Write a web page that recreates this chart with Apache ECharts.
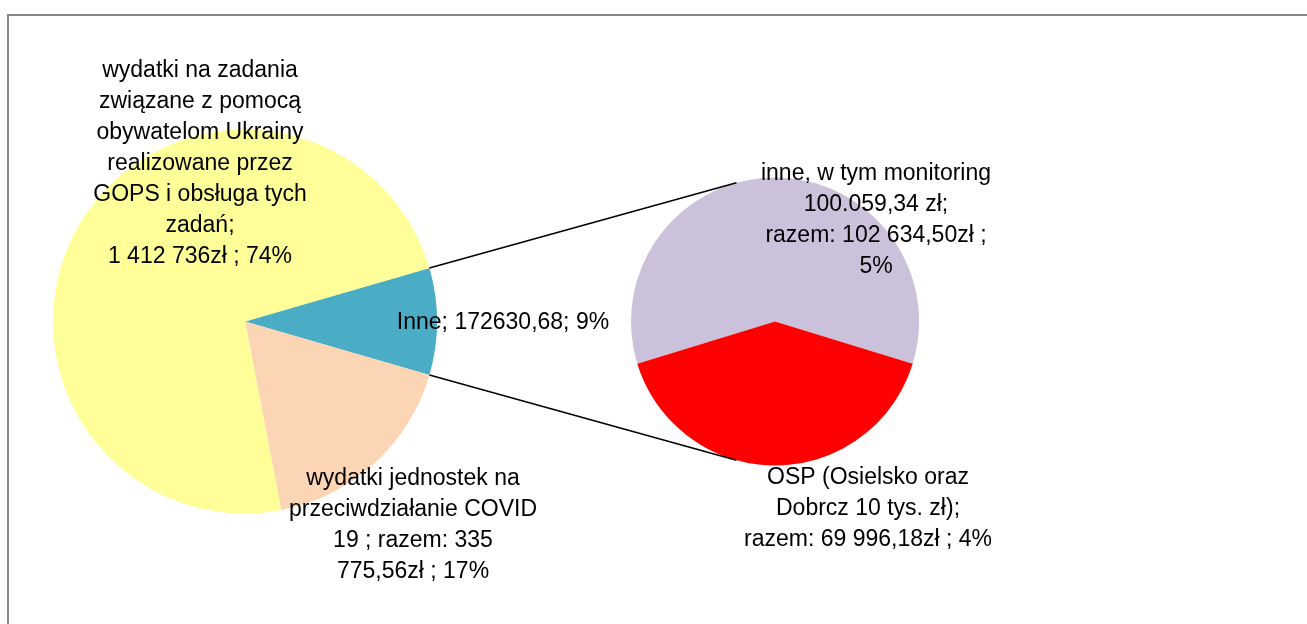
<!DOCTYPE html>
<html>
<head>
<meta charset="utf-8">
<script src="https://cdn.jsdelivr.net/npm/echarts@6/dist/echarts.min.js"></script>
<style>
html,body{margin:0;padding:0;background:#fff;}
#chart{width:1307px;height:624px;}
</style>
</head>
<body>
<div id="chart"></div>
<script>
// ---- data ----
const mainNames = ['Inne', 'wydatki jednostek na przeciwdziałanie COVID 19', 'wydatki na zadania związane z pomocą obywatelom Ukrainy realizowane przez GOPS i obsługa tych zadań'];
const mainValues = [172630.68, 335775.56, 1412736];
const mainLabels = [
  'Inne; 172630,68; 9%',
  'wydatki jednostek na\nprzeciwdziałanie COVID\n19 ; razem: 335\n775,56zł ; 17%',
  'wydatki na zadania\nzwiązane z pomocą\nobywatelom Ukrainy\nrealizowane przez\nGOPS i obsługa tych\nzadań;\n1 412 736zł ; 74%'
];
const subNames = ['inne, w tym monitoring', 'OSP (Osielsko oraz Dobrcz 10 tys. zł)'];
const subValues = [102634.50, 69996.18];
const subLabels = [
  'inne, w tym monitoring\n100.059,34 zł;\nrazem: 102 634,50zł ;\n5%',
  'OSP (Osielsko oraz\nDobrcz 10 tys. zł);\nrazem: 69 996,18zł ; 4%'
];

// ---- layout / style ----
const mainColors = ['#4BACC6', '#FCD5B5', '#FFFF99'];
const subColors = ['#CCC1DA', '#FF0000'];
const mainCenter = [245, 321.5], mainR = 192;
const subCenter = [775, 321.5], subR = 144;
const mainLabelPos = [[503, 323], [413, 525], [200, 164]];
const subLabelPos = [[876, 220], [868, 509]];
const FONT = 'Liberation Sans';

const mainTotal = mainValues.reduce((a, b) => a + b, 0);
const halfAngle = mainValues[0] / mainTotal * 180; // degrees, "Inne" slice centred on 3 o'clock
const subTotal = subValues.reduce((a, b) => a + b, 0);
const redSweep = subValues[1] / subTotal * 360;
const subStart = -90 - redSweep / 2 + 360 - (360 - redSweep); // lavender starts after red ends (clockwise)

// connector lines: from Inne slice edges, tangent to secondary pie
function connector(sign) {
  const a = sign * halfAngle * Math.PI / 180;
  const P = [mainCenter[0] + mainR * Math.cos(a), mainCenter[1] - mainR * Math.sin(a)];
  const dx = P[0] - subCenter[0], dy = -(P[1] - subCenter[1]);
  const d = Math.hypot(dx, dy);
  const base = Math.atan2(dy, dx);
  const off = Math.acos(subR / d);
  const t = base - sign * off;
  const T = [subCenter[0] + subR * Math.cos(t), subCenter[1] - subR * Math.sin(t)];
  return {type: 'line', shape: {x1: P[0], y1: P[1], x2: T[0], y2: T[1]}, style: {stroke: '#000', lineWidth: 1.5}, z: 10};
}

const chart = echarts.init(document.getElementById('chart'), null, {renderer: 'canvas'});
const labelStyle = {color: '#000', fontFamily: FONT, fontSize: 23, lineHeight: 31, align: 'center'};

chart.setOption({
  animation: false,
  backgroundColor: '#fff',
  graphic: [
    {type: 'rect', shape: {x: 8, y: 15, width: 1320, height: 640}, style: {fill: 'none', stroke: '#888', lineWidth: 2}, z: 0, silent: true},
    connector(1),
    connector(-1)
  ],
  series: [
    {
      type: 'pie',
      center: mainCenter,
      radius: [0, mainR],
      startAngle: halfAngle,
      clockwise: true,
      silent: true,
      avoidLabelOverlap: false,
      data: mainNames.map((n, i) => ({name: n, value: mainValues[i], itemStyle: {color: mainColors[i]}})),
      label: Object.assign({show: true, position: 'outside', formatter: p => mainLabels[p.dataIndex]}, labelStyle),
      labelLine: {show: false},
      labelLayout: p => ({x: mainLabelPos[p.dataIndex][0], y: mainLabelPos[p.dataIndex][1], align: 'center', verticalAlign: 'middle'}),
      itemStyle: {borderWidth: 0}
    },
    {
      type: 'pie',
      center: subCenter,
      radius: [0, subR],
      startAngle: -90 + redSweep / 2 + (360 - redSweep) ,
      clockwise: true,
      silent: true,
      avoidLabelOverlap: false,
      data: subNames.map((n, i) => ({name: n, value: subValues[i], itemStyle: {color: subColors[i]}})),
      label: Object.assign({show: true, position: 'outside', formatter: p => subLabels[p.dataIndex]}, labelStyle),
      labelLine: {show: false},
      labelLayout: p => ({x: subLabelPos[p.dataIndex][0], y: subLabelPos[p.dataIndex][1], align: 'center', verticalAlign: 'middle'}),
      itemStyle: {borderWidth: 0}
    }
  ]
});
</script>
</body>
</html>
